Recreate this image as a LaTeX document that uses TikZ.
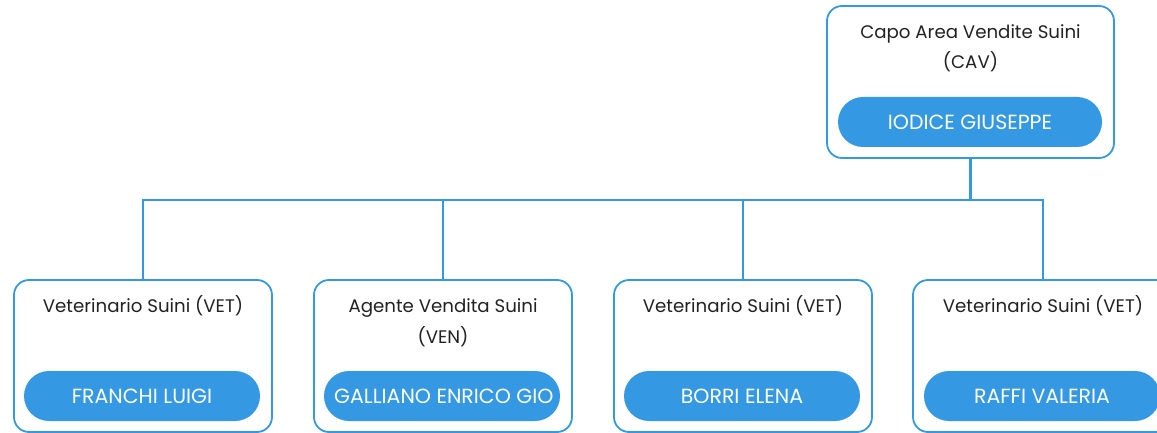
\documentclass[tikz,border=0pt]{standalone}
\usepackage{fontspec}
\setmainfont{Poppins}
\definecolor{bl}{RGB}{52,153,226}
\definecolor{tx}{RGB}{34,34,34}
\begin{document}
\begin{tikzpicture}[x=1pt,y=-1pt,
  card/.style={draw=bl,line width=1.8pt,rounded corners=15pt,fill=white,inner sep=0pt,minimum width=258pt,minimum height=152pt},
  pill/.style={fill=bl,rounded corners=25pt,minimum height=50pt,minimum width=236pt,text=white,font=\fontsize{20.5}{22}\selectfont,inner sep=0pt},
  ttl/.style={text=tx,font=\fontsize{18.2}{22}\selectfont,inner sep=0pt,anchor=base},
  wire/.style={draw=bl,line width=2.6pt}]
\useasboundingbox (0,0) rectangle (1157,433);
\clip (0,0) rectangle (1157,433);
\coordinate (bus) at (0,200);
% top card
\node[card,minimum width=287pt] (top) at (970.5,82) {};
\node[ttl] (toptitle) at (970.5,39) {Capo Area Vendite Suini};
\node[ttl] (toptitleb) at (970.5,69) {(CAV)};
\node[pill,minimum width=264pt] (toppill) at (970,122) {IODICE GIUSEPPE};
% bottom cards
\node[card] (v1) at (143,356) {};
\node[card] (v2) at (443,356) {};
\node[card] (v3) at (743,356) {};
\node[card,minimum width=260pt] (v4) at (1043,356) {};
\node[ttl] (t1) at (143,312) {Veterinario Suini (VET)};
\node[ttl] (t2) at (443,312) {Agente Vendita Suini};
\node[ttl] (t2b) at (443,343) {(VEN)};
\node[ttl] (t3) at (743,312) {Veterinario Suini (VET)};
\node[ttl] (t4) at (1043,312) {Veterinario Suini (VET)};
\node[pill] (p1) at (142,396) {FRANCHI LUIGI};
\node[pill] (p2) at (442,396) {};
\begin{scope}
  \clip[rounded corners=25pt] (p2.north west) rectangle (p2.south east);
  \node[anchor=base west,text=white,font=\fontsize{20.5}{22}\selectfont,inner sep=0pt] (p2text) at (334,403) {GALLIANO ENRICO GIO};
\end{scope}
\node[pill] (p3) at (742,396) {BORRI ELENA};
\node[pill] (p4) at (1042,396) {RAFFI VALERIA};
% connectors
\draw[wire] (top.south) -- (top.south |- bus);
\draw[wire] (v1.north) -- (v1.north |- bus) -- (v4.north |- bus) -- (v4.north);
\draw[wire] (v2.north) -- (v2.north |- bus);
\draw[wire] (v3.north) -- (v3.north |- bus);
\end{tikzpicture}
\end{document}
